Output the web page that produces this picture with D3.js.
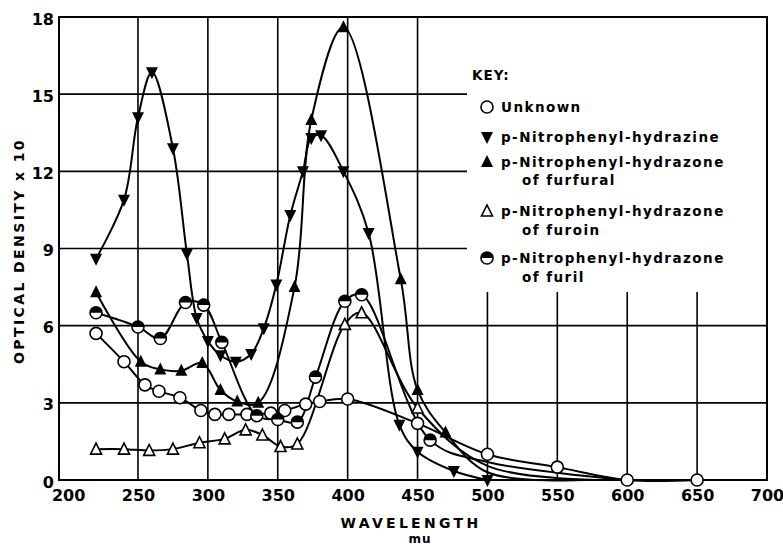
<!DOCTYPE html>
<html><head><meta charset="utf-8">
<script src="https://cdn.jsdelivr.net/npm/d3@7"></script>
<style>body{margin:0;background:#fff}svg{display:block}</style>
</head><body><svg id="c" width="783" height="547"></svg>
<script>
// ---- data ----
const wavelengthTicks = [200,250,300,350,400,450,500,550,600,650,700];
const densityTicks = [0,3,6,9,12,15,18];

const unknownW = [220,240,255,265,280,295,305,315,328,345,355,370,380,400,450,500,550,600,650];
const unknownD = [5.7,4.6,3.7,3.45,3.2,2.7,2.55,2.55,2.55,2.6,2.7,2.95,3.05,3.15,2.2,1.0,0.5,0,0];

const hydrazineW = [220,240,250,260,275,285,292,300,309,320,331,340,349,359,368,374,381,397,415,437,450,476,500];
const hydrazineD = [8.6,10.9,14.1,15.85,12.9,8.8,6.3,5.4,4.85,4.6,4.9,5.9,7.6,10.3,12.0,13.3,13.4,12.0,9.6,2.15,1.1,0.35,0];

const furfuralW = [220,252,266,281,296,309,321,336,362,374,397,438,450,470];
const furfuralD = [7.3,4.6,4.3,4.25,4.55,3.5,3.05,3.0,7.5,14.0,17.6,7.8,3.5,1.85];
const furfuralTailW = [500,570];
const furfuralTailD = [0.3,0];

const furoinW = [220,240,258,275,294,312,327,339,352,364,398,410,450];
const furoinD = [1.2,1.2,1.15,1.2,1.45,1.6,1.95,1.75,1.3,1.4,6.05,6.5,2.8];
const furoinTailW = [500,585];
const furoinTailD = [0.55,0];

const furilW = [220,250,266,284,297,310,335,350,364,377,398,410,459];
const furilD = [6.5,5.95,5.5,6.9,6.8,5.35,2.5,2.35,2.25,4.0,6.95,7.2,1.55];
const furilTailW = [500,600];
const furilTailD = [0.7,0];

const legendLabels = [
  ["Unknown"],
  ["p-Nitrophenyl-hydrazine"],
  ["p-Nitrophenyl-hydrazone","of furfural"],
  ["p-Nitrophenyl-hydrazone","of furoin"],
  ["p-Nitrophenyl-hydrazone","of furil"]
];

// ---- chart ----
const svg = d3.select("#c");
const L = 59, R = 767, T = 17, B = 480;
const x = d3.scaleLinear().domain([193.5,700]).range([L,R]);
const y = d3.scaleLinear().domain([0,18]).range([B,T]);
const FONT = "'DejaVu Sans', Verdana, sans-serif";

const series = [
  {w:unknownW, d:unknownD, tw:[], td:[], m:"circle"},
  {w:hydrazineW, d:hydrazineD, tw:[], td:[], m:"down"},
  {w:furfuralW, d:furfuralD, tw:furfuralTailW, td:furfuralTailD, m:"up"},
  {w:furoinW, d:furoinD, tw:furoinTailW, td:furoinTailD, m:"upOpen"},
  {w:furilW, d:furilD, tw:furilTailW, td:furilTailD, m:"half"}
];

// grid
const grid = svg.append("g").attr("stroke","#000").attr("stroke-width",1.6);
grid.selectAll("line.v").data(wavelengthTicks.filter(t=>t>200 && t<700)).join("line")
  .attr("x1",d=>x(d)).attr("x2",d=>x(d)).attr("y1",T).attr("y2",B);
grid.selectAll("line.h").data(densityTicks.filter(t=>t>0 && t<18)).join("line")
  .attr("x1",L).attr("x2",R).attr("y1",d=>y(d)).attr("y2",d=>y(d));

// legend background masks grid
const legX0 = 467, legY1 = 292;
svg.append("rect").attr("x",legX0).attr("y",T+1).attr("width",R-legX0-1).attr("height",legY1-T-1).attr("fill","#fff");

// frame
svg.append("rect").attr("x",L).attr("y",T).attr("width",R-L).attr("height",B-T)
  .attr("fill","none").attr("stroke","#000").attr("stroke-width",2);

// axes labels
const xAxis = d3.axisBottom(x).tickValues(wavelengthTicks).tickSize(0).tickPadding(10);
const gx = svg.append("g").attr("transform",`translate(0,${B})`).call(xAxis);
gx.select(".domain").remove();
gx.selectAll("text").attr("font-family",FONT).attr("font-weight","bold").attr("font-size",16).attr("fill","#000");

const yAxis = d3.axisLeft(y).tickValues(densityTicks).tickSize(0).tickPadding(4);
const gy = svg.append("g").attr("transform",`translate(${L-1},2)`).call(yAxis);
gy.select(".domain").remove();
gy.selectAll("text").attr("font-family",FONT).attr("font-weight","bold").attr("font-size",16).attr("fill","#000");

svg.append("text").attr("transform","translate(24,251) rotate(-90)").attr("text-anchor","middle")
  .attr("font-family",FONT).attr("font-weight","bold").attr("font-size",14).attr("letter-spacing",2.4)
  .text("OPTICAL DENSITY x 10");
svg.append("text").attr("x",411).attr("y",528).attr("text-anchor","middle")
  .attr("font-family",FONT).attr("font-weight","bold").attr("font-size",14).attr("letter-spacing",3.3)
  .text("WAVELENGTH");
svg.append("text").attr("x",420).attr("y",543).attr("text-anchor","middle")
  .attr("font-family",FONT).attr("font-weight","bold").attr("font-size",12).attr("letter-spacing",1)
  .text("mu");

// lines
const line = d3.line().x(p=>x(p[0])).y(p=>y(p[1])).curve(d3.curveCatmullRom.alpha(0.5));
const lg = svg.append("g").attr("fill","none").attr("stroke","#000").attr("stroke-width",2);
series.forEach(s=>{
  const pts = s.w.map((w,i)=>[w,s.d[i]]).concat(s.tw.map((w,i)=>[w,s.td[i]]));
  lg.append("path").attr("d",line(pts));
});

// markers
function marker(g, type, cx, cy){
  const sw = 1.6;
  if(type==="circle"){
    g.append("circle").attr("cx",cx).attr("cy",cy).attr("r",6).attr("fill","#fff").attr("stroke","#000").attr("stroke-width",sw);
  } else if(type==="half"){
    g.append("circle").attr("cx",cx).attr("cy",cy).attr("r",6).attr("fill","#fff").attr("stroke","#000").attr("stroke-width",sw);
    g.append("path").attr("d",`M${cx-6},${cy} A6,6 0 0 1 ${cx+6},${cy} Z`).attr("fill","#000");
  } else if(type==="down"){
    g.append("path").attr("d",`M${cx-6},${cy-5} L${cx+6},${cy-5} L${cx},${cy+7} Z`).attr("fill","#000");
  } else if(type==="up"){
    g.append("path").attr("d",`M${cx-6},${cy+5} L${cx+6},${cy+5} L${cx},${cy-7} Z`).attr("fill","#000");
  } else if(type==="upOpen"){
    g.append("path").attr("d",`M${cx-5.5},${cy+5} L${cx+5.5},${cy+5} L${cx},${cy-6} Z`).attr("fill","#fff").attr("stroke","#000").attr("stroke-width",sw);
  }
}
const mg = svg.append("g");
series.forEach(s=>{
  s.w.forEach((w,i)=>marker(mg, s.m, x(w), y(s.d[i])));
});

// legend
const leg = svg.append("g").attr("font-family",FONT).attr("font-weight","bold").attr("font-size",13.5).attr("fill","#000");
leg.append("text").attr("x",472).attr("y",80).attr("letter-spacing",1).text("KEY:");
const rowY = [107,137,162,211,258];
legendLabels.forEach((lab,i)=>{
  marker(leg, series[i].m, 487, rowY[i]);
  leg.append("text").attr("x",501).attr("y",rowY[i]+5).attr("letter-spacing",1.45).text(lab[0]);
  if(lab[1]) leg.append("text").attr("x",522).attr("y",rowY[i]+5+ (i===2?18:19)).attr("letter-spacing",1.45).text(lab[1]);
});
</script>
</body></html>
